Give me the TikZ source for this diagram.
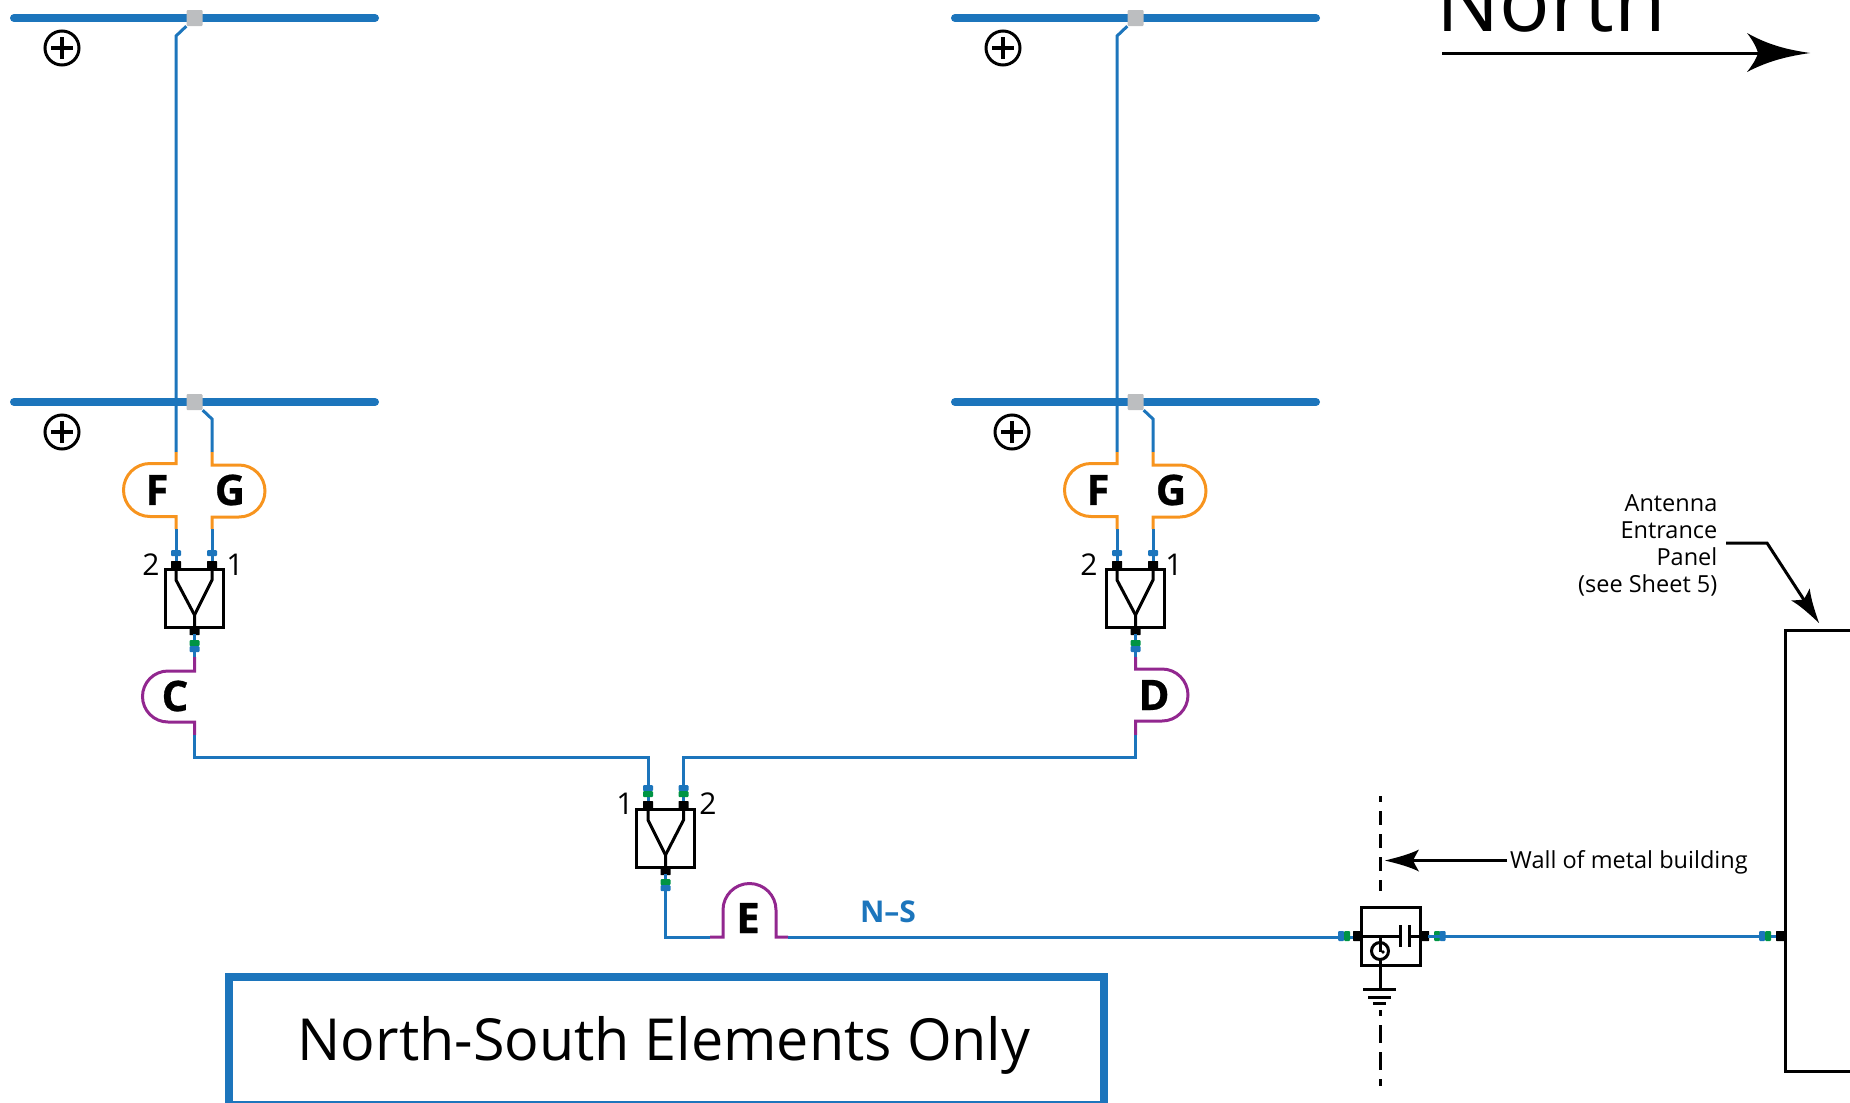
\documentclass[tikz,border=0pt]{standalone}
\usepackage{fontspec}
\setmainfont{Open Sans}
\newfontfamily\narrowsans[FakeStretch=0.99]{Open Sans}
\newfontfamily\heavysans[FakeBold=0.7]{Open Sans Bold}
\definecolor{antblue}{HTML}{1C75BC}
\definecolor{conngreen}{HTML}{009444}
\definecolor{coaxorange}{HTML}{F7941E}
\definecolor{coaxpurple}{HTML}{92278F}
\definecolor{squaregray}{HTML}{BCBEC0}
\tikzset{
  bluewire/.style={draw=antblue,line width=3pt,line join=miter},
  orangewire/.style={draw=coaxorange,line width=3pt},
  purplewire/.style={draw=coaxpurple,line width=3pt},
  blackline/.style={draw=black,line width=3pt},
  element/.style={draw=antblue,line width=8pt,line cap=round},
  feedsq/.style={fill=squaregray,draw=none,minimum size=16pt,inner sep=0pt,rounded corners=1pt},
  plug/.style={fill=black,draw=none,minimum width=10pt,minimum height=9pt,inner sep=0pt,rounded corners=.5pt},
  vplug/.style={fill=black,draw=none,minimum width=9pt,minimum height=10pt,inner sep=0pt,rounded corners=.5pt},
  bc/.style={fill=antblue,draw=none,minimum width=10pt,minimum height=6pt,inner sep=0pt,rounded corners=1pt},
  gc/.style={fill=conngreen,draw=none,minimum width=10pt,minimum height=6pt,inner sep=0pt,rounded corners=1pt},
  vbc/.style={fill=antblue,draw=none,minimum width=6pt,minimum height=10pt,inner sep=0pt,rounded corners=1pt},
  vgc/.style={fill=conngreen,draw=none,minimum width=6pt,minimum height=10pt,inner sep=0pt,rounded corners=1pt},
  plus/.style={circle,draw=black,line width=3pt,minimum size=34pt,inner sep=0pt},
  letter/.style={inner sep=0pt,font=\fontsize{42}{42}\selectfont\heavysans},
  num/.style={inner sep=0pt,font=\fontsize{30}{30}\selectfont},
  note/.style={inner sep=0pt,font=\fontsize{23.5}{27}\selectfont},
  splitter/.style={draw=black,line width=3pt,minimum width=58pt,minimum height=58pt,inner sep=0pt},
}
\newcommand{\plussign}[1]{\draw[line width=3.6pt] ([xshift=-11pt]#1.center) -- ([xshift=11pt]#1.center) ([yshift=-11pt]#1.center) -- ([yshift=11pt]#1.center);}
\newcommand{\headat}[3]{% tip, angle, scale
  \fill[black,shift={(#1)},rotate=#2,scale=#3] (0,0) .. controls (-12,-3) and (-24,-6) .. (-34,-11) .. controls (-31,-6) and (-29,-2) .. (-28,0) .. controls (-29,2) and (-31,6) .. (-34,11) .. controls (-24,6) and (-12,3) .. (0,0) -- cycle;}
\begin{document}
\begin{tikzpicture}[x=1pt,y=-1pt]
\useasboundingbox (0,0) rectangle (1850,1103);
% Unit A and B
\foreach \dx/\nm in {0/A,941/B}{
  \begin{scope}[xshift=\dx pt]
  \draw[element] (14,18) -- (375,18);
  \draw[element] (14,402) -- (375,402);
  \node[feedsq] (top\nm) at (194.5,18) {};
  \node[feedsq] (low\nm) at (194.5,402) {};
  \draw[bluewire] (top\nm.south west) -- (176,36) -- (176,452);
  \draw[bluewire] (low\nm.south east) -- (212,419) -- (212,452);
  \draw[orangewire] (176,452) -- (176,463.5) -- (150,463.5) arc[start angle=-90,end angle=-270,radius=26.5] -- (176,516.5) -- (176,529);
  \draw[orangewire] (212,452) -- (212,465) -- (239,465) arc[start angle=-90,end angle=90,radius=26] -- (212,517) -- (212,529);
  \draw[bluewire] (176,529) -- (176,562);
  \draw[bluewire] (212,529) -- (212,562);
  \node[splitter] (sp\nm) at (194.5,598) {};
  \draw[blackline] (176,569) -- (176,580) -- (194.5,615) -- (194.5,627);
  \draw[blackline] (212,569) -- (212,580) -- (194.5,615);
  \node[bc] at (176,553) {};
  \node[bc] at (212,553) {};
  \node[plug] at (176,565.5) {};
  \node[plug] at (212,565.5) {};
  \node[plug] at (194.5,630.5) {};
  \draw[bluewire] (194.5,634) -- (194.5,657);
  \node[gc] at (194.5,643) {};
  \node[bc] at (194.5,649) {};
  \node[letter] at (157,490) {F};
  \node[letter] at (230,490) {G};
  \end{scope}
}
% plus signs
\node[plus] (pa) at (62,48) {}; \plussign{pa}
\node[plus] (pb) at (62,432) {}; \plussign{pb}
\node[plus] (pc) at (1003,48) {}; \plussign{pc}
\node[plus] (pd) at (1012,432) {}; \plussign{pd}
\node[num] at (151,565) {2};
\node[num] at (235,565) {1};
\node[num] at (1089,565) {2};
\node[num] at (1174,565) {1};
% C
\draw[purplewire] (194.5,657) -- (194.5,671) -- (168,671) arc[start angle=-90,end angle=-270,radius=25.5] -- (194.5,722) -- (194.5,735);
\node[letter] at (175,696) {C};
% D
\draw[purplewire] (1135.5,657) -- (1135.5,669) -- (1162,669) arc[start angle=-90,end angle=90,radius=26] -- (1135.5,721) -- (1135.5,735);
\node[letter] at (1154,695) {D};
% trunk to central splitter
\coordinate (ct1) at (648,802);
\coordinate (ct2) at (683.5,802);
\draw[bluewire] (194.5,735) -- (194.5,757) -- (648,757) -- (ct1);
\draw[bluewire] (1135.5,735) -- (1135.5,757) -- (683.5,757) -- (ct2);
\node[bc] at (648,788) {};
\node[gc] at (648,794) {};
\node[bc] at (683.5,788) {};
\node[gc] at (683.5,794) {};
\node[splitter] (spC) at (665.5,838) {};
\draw[blackline] (648,809) -- (648,820) -- (665.5,855) -- (665.5,867);
\draw[blackline] (683.5,809) -- (683.5,820) -- (665.5,855);
\node[plug] at (648,805.5) {};
\node[plug] at (683.5,805.5) {};
\node[plug] at (665.5,870.5) {};
\node[num] at (625,804) {1};
\node[num] at (708,804) {2};
\draw[bluewire] (665.5,874) -- (665.5,937) -- (710,937);
\node[gc] at (665.5,882) {};
\node[bc] at (665.5,888) {};
% E
\draw[purplewire] (710,937) -- (723,937) -- (723,910) arc[start angle=180,end angle=360,radius=26.5] -- (776,937) -- (788,937);
\node[letter] at (748,918) {E};
\draw[bluewire] (788,937) -- (1354,937);
\node[inner sep=0pt,text=antblue,font=\fontsize{30}{30}\selectfont\bfseries] (ns) at (888,912) {N–S};
% arrestor
\node[draw=black,line width=3pt,minimum width=59pt,minimum height=58pt,inner sep=0pt] (arr) at (1391,936) {};
\draw[blackline] (1354,936) -- (1400,936);
\draw[blackline] (1409,936) -- (1428,936);
\draw[blackline] (1400,925) -- (1400,947);
\draw[blackline] (1409,925) -- (1409,947);
\draw[blackline] (1380,936) -- (1380,952);
\draw[blackline] (1380,959) -- (1380,989);
\draw[blackline] (1380,951) circle[radius=8.5];
\fill (1383,952) circle[radius=1.8];
\draw[blackline] (1363,989) -- (1396,989);
\draw[blackline] (1368,997) -- (1391,997);
\draw[blackline] (1373,1003) -- (1386,1003);
\node[vplug] at (1357.5,936) {};
\node[vplug] at (1424.5,936) {};
\node[vbc] at (1341,936) {};
\node[vgc] at (1347,936) {};
\node[vgc] at (1437,936) {};
\node[vbc] at (1442.5,936) {};
\draw[bluewire] (1428,936) -- (1776,936);
\node[vbc] at (1762,936) {};
\node[vgc] at (1768,936) {};
\node[vplug] at (1780.5,936) {};
% wall dashes
\draw[black,line width=3pt,dash pattern=on 14pt off 9pt,dash phase=8pt] (1380,796) -- (1380,891);
\draw[black,line width=3pt,dash pattern=on 18pt off 9pt,dash phase=12pt] (1380,1010) -- (1380,1086);
% panel
\draw[black,line width=3pt] (1850,630) -- (1785,630) -- (1785,1071) -- (1850,1071);
% wall label
\node[note,anchor=west] (wall) at (1510,862.5) {Wall of metal building};
\coordinate (wallend) at (1507,860.5);
\coordinate (walltip) at (1385,860.5);
\draw[black,line width=3pt] (wallend) -- (1410,860.5);
\headat{walltip}{180}{1}
% panel label
\node[note,align=right,anchor=east] (aep) at (1717.5,545) {Antenna\\Entrance\\Panel\\(see Sheet 5)};
\draw[black,line width=3pt] (1726,543) -- (1767,543) -- (1806,603);
\headat{1819,623}{-57}{1}
% north
\node[inner sep=0pt,anchor=base west,font=\fontsize{84}{84}\selectfont] (north) at (1436,31) {North};
\draw[black,line width=3pt] (1442,53) -- (1770,53);
\fill[black] (1810,53) .. controls (1790,50) and (1770,46) .. (1747,33) .. controls (1754,42) and (1757,49) .. (1758,53) .. controls (1757,57) and (1754,63) .. (1747,72) .. controls (1770,60) and (1790,56) .. (1810,53) -- cycle;
% title box
\draw[draw=antblue,line width=8pt] (229,1105) -- (229,977) -- (1104,977) -- (1104,1105);
\draw[draw=antblue,line width=2pt] (226,1102) -- (1107,1102);
\node[inner sep=0pt,anchor=base,font=\fontsize{58}{58}\selectfont\narrowsans] (title) at (664,1060) {North-South Elements Only};
\end{tikzpicture}
\end{document}
